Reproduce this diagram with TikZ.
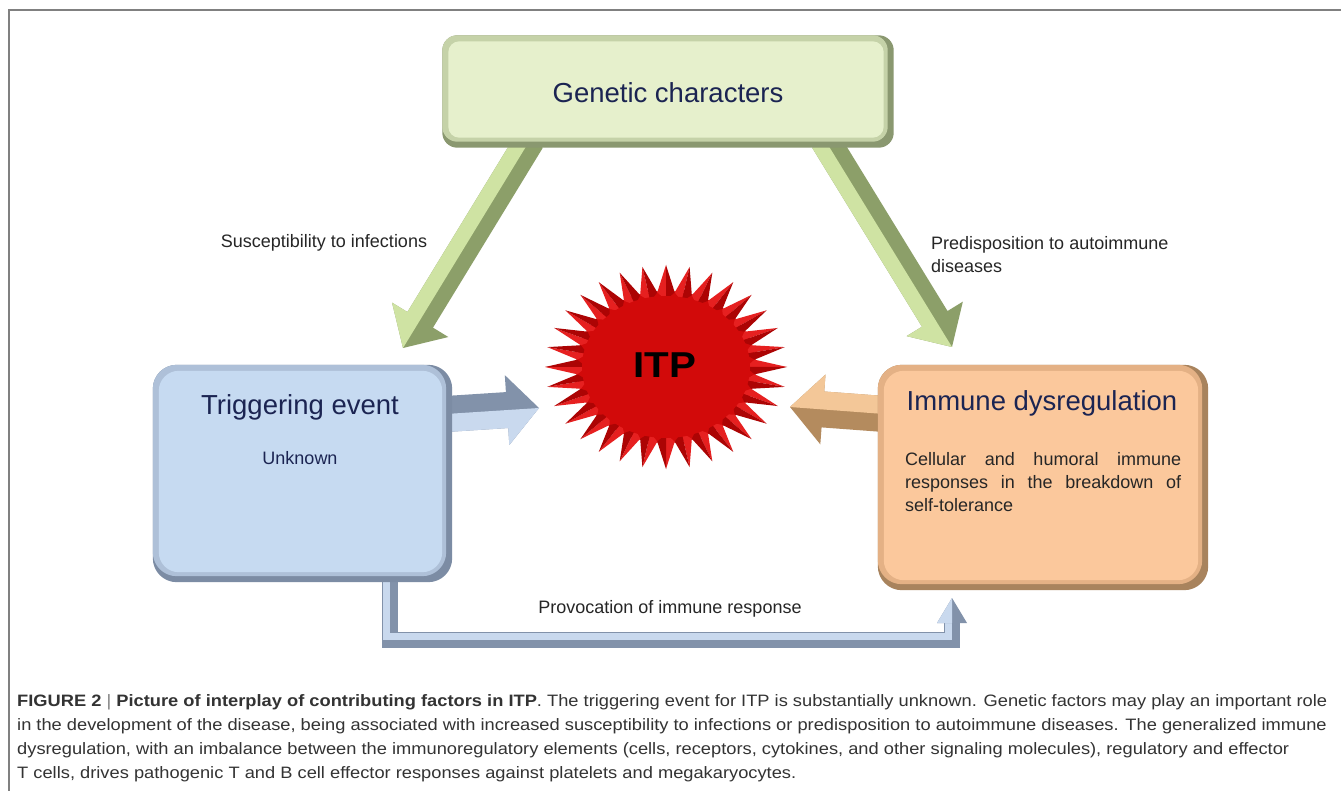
\documentclass[tikz,border=0pt]{standalone}
\usepackage{fontspec}
\setmainfont{Liberation Sans}
\usetikzlibrary{calc}
\definecolor{framec}{HTML}{808080}
\definecolor{genL}{HTML}{E6F0CC}
\definecolor{genM}{HTML}{C5D2A8}
\definecolor{genD}{HTML}{8A9870}
\definecolor{trigL}{HTML}{C6DAF1}
\definecolor{trigM}{HTML}{AEC0D8}
\definecolor{trigD}{HTML}{7C8CA4}
\definecolor{immL}{HTML}{FBC89C}
\definecolor{immM}{HTML}{E4B185}
\definecolor{immD}{HTML}{A8835D}
\definecolor{garL}{HTML}{CFE3A3}
\definecolor{garD}{HTML}{8C9F69}
\definecolor{barL}{HTML}{C9D9EE}
\definecolor{barD}{HTML}{8292AA}
\definecolor{oarL}{HTML}{F3C798}
\definecolor{oarD}{HTML}{B48B5E}
\definecolor{starM}{HTML}{D20A0A}
\definecolor{starL}{HTML}{E62020}
\definecolor{starD}{HTML}{AC0404}
\definecolor{titlec}{HTML}{1B2452}
\definecolor{labc}{HTML}{262626}
\definecolor{capc}{HTML}{333333}
\newlength\capw
\newcommand\capA{\textbf{FIGURE 2} {\color{framec}|} \textbf{Picture of interplay of contributing factors in ITP}. The triggering event for ITP is substantially unknown. Genetic factors may play an important role}
\newcommand\capB{in the development of the disease, being associated with increased susceptibility to infections or predisposition to autoimmune diseases. The generalized immune}
\newcommand\capC{dysregulation, with an imbalance between the immunoregulatory elements (cells, receptors, cytokines, and other signaling molecules), regulatory and effector}
\newcommand\capD{T cells, drives pathogenic T and B cell effector responses against platelets and megakaryocytes.}
\newcommand\capfont{\fontsize{16.5}{24}\selectfont}
% block arrow: start, tip, half shaft, half head, head length, light, dark
\newcommand\blockarrow[7]{%
  \coordinate (ba-b) at ($(#2)!#5!(#1)$);
  \coordinate (ba-s1) at ($(#1)!#3!90:(#2)$);
  \coordinate (ba-s2) at ($(#1)!#3!-90:(#2)$);
  \coordinate (ba-b1) at ($(ba-b)!#3!-90:(#1)$);
  \coordinate (ba-b2) at ($(ba-b)!#3!90:(#1)$);
  \coordinate (ba-h1) at ($(ba-b)!#4!-90:(#1)$);
  \coordinate (ba-h2) at ($(ba-b)!#4!90:(#1)$);
  \fill[#7] (ba-s1) -- (ba-b1) -- (ba-h1) -- (#2) -- (ba-h2) -- (ba-b2) -- (ba-s2) -- cycle;
  \fill[#6] (ba-s2) -- (ba-b2) -- (ba-h2) -- (#2) -- (ba-b) -- (#1) -- cycle;
}
\tikzset{
  boxshape/.style={rectangle, inner sep=0pt, draw=none},
  title/.style={text=titlec, font=\fontsize{27.5}{32}\selectfont, inner sep=0pt},
  lab/.style={text=labc, font=\fontsize{18}{23}\selectfont, inner sep=0pt},
  capline/.style={anchor=base west, inner sep=0pt, text=capc, font=\capfont},
}
\begin{document}
\settowidth\capw{\capfont\capA}%
\pgfmathsetmacro\capsc{1310/\capw}%
\begin{tikzpicture}[x=1pt,y=-1pt]
\useasboundingbox (0,0) rectangle (1341,791);
\fill[white] (0,0) rectangle (1341,791);
\draw[framec, line width=1.8pt] (9,791) -- (9,10) -- (1341,10);

% box shapes (drawn later)
\node[boxshape, minimum width=451pt, minimum height=112pt] (gen) at (668,91.5) {};
\node[boxshape, minimum width=299pt, minimum height=217pt] (trig) at (302.5,473.5) {};
\node[boxshape, minimum width=330pt, minimum height=225pt] (imm) at (1043,477.5) {};

% green arrows
\coordinate (ga1) at (530,140); \coordinate (gt1) at (403,348);
\coordinate (ga2) at (825,140); \coordinate (gt2) at (952,347);
\blockarrow{ga1}{gt1}{15pt}{33pt}{33pt}{garL}{garD}
\blockarrow{ga2}{gt2}{15pt}{33pt}{33pt}{garL}{garD}
% blue and orange arrows
\coordinate (ba0) at (446,414); \coordinate (bat) at (539,408);
\blockarrow{ba0}{bat}{18pt}{35pt}{32pt}{barL}{barD}
\coordinate (oa0) at (884,414); \coordinate (oat) at (790,407);
\blockarrow{oa0}{oat}{18pt}{35pt}{33pt}{oarL}{oarD}

% bottom connector
\coordinate (bc0) at (390,575);
\coordinate (bc1) at (390,640);
\coordinate (bc2) at (952,640);
\coordinate (bc3) at (952,622);
\coordinate (bct) at (952,598);
\draw[barD, line width=16pt, line join=miter] (bc0) -- (bc1) -- (bc2) -- (bc3);
\draw[barL, line width=7pt, line join=miter] ($(bc0)+(-4,0)$) -- ($(bc1)+(-4,-4)$) -- ($(bc2)+(-4,-4)$) -- ($(bc3)+(-4,0)$);
\fill[barD] (bct) -- ($(bc3)+(15,1)$) -- ($(bc3)+(-15,1)$) -- cycle;
\fill[barL] (bct) -- ($(bc3)+(-15,1)$) -- ($(bc3)+(0,1)$) -- cycle;

% boxes
\foreach \b/\L/\M/\D/\r in {gen/genL/genM/genD/15, trig/trigL/trigM/trigD/24, imm/immL/immM/immD/24}{
  \fill[\D, rounded corners=\r] (\b.north west) rectangle (\b.south east);
  \fill[\M, rounded corners=\r] (\b.north west) rectangle ([shift={(-6,-6)}]\b.south east);
  \fill[\L, rounded corners=\r-4] ([shift={(6,6)}]\b.north west) rectangle ([shift={(-10,-10)}]\b.south east);
}

% texts in boxes
\node[title] (tgen) at (668,93) {Genetic characters};
\node[title] (ttrig) at (300,407) {Triggering event};
\node[title, font=\fontsize{18}{22}\selectfont] (tunk) at (300,458) {Unknown};
\node[title] (timm) at (1042,403) {Immune dysregulation};
\node[lab, text=black!85, anchor=north west, text width=276pt, align=justify] (tbody) at (905,452) {\hyphenpenalty=10000\relax Cellular and humoral immune\linebreak responses in the breakdown of\linebreak self-tolerance};

% labels
\node[lab] (lsus) at (324,243) {Susceptibility to infections};
\node[lab, anchor=west, align=left] (lpred) at (931,254.5) {Predisposition to autoimmune\\diseases};
\node[lab] (lprov) at (670,609) {Provocation of immune response};

% star
\coordinate (itpc) at (666,367);
\fill[starM] (itpc) ellipse [x radius=90, y radius=76];
\foreach \k in {0,...,31}{
  \pgfmathsetmacro\a{\k*11.25}
  \pgfmathsetmacro\am{\k*11.25-5.625}
  \pgfmathsetmacro\ap{\k*11.25+5.625}
  \fill[starL] ($(itpc)+({89*cos(\am)},{75*sin(\am)})$) -- ($(itpc)+({121*cos(\a)},{102*sin(\a)})$) -- ($(itpc)+({80*cos(\a)},{67*sin(\a)})$) -- cycle;
  \fill[starD] ($(itpc)+({80*cos(\a)},{67*sin(\a)})$) -- ($(itpc)+({121*cos(\a)},{102*sin(\a)})$) -- ($(itpc)+({89*cos(\ap)},{75*sin(\ap)})$) -- cycle;
}
\fill[starM] (itpc) ellipse [x radius=84, y radius=71];
\node[inner sep=0pt, font=\bfseries\fontsize{36}{40}\selectfont] (itp) at (665,365) {\scalebox{1.12}[1]{ITP}};

% caption
\node[capline] (cap1) at (17,706) {\scalebox{\capsc}[1]{\capA}};
\node[capline] (cap2) at (17,730) {\scalebox{\capsc}[1]{\capB}};
\node[capline] (cap3) at (17,754) {\scalebox{\capsc}[1]{\capC}};
\node[capline] (cap4) at (17,778) {\scalebox{\capsc}[1]{\capD}};
\end{tikzpicture}
\end{document}
